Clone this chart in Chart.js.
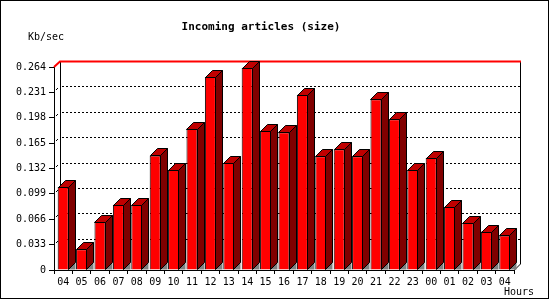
<!DOCTYPE html>
<html>
<head>
<meta charset="utf-8">
<script src="https://cdn.jsdelivr.net/npm/chart.js@4"></script>
<style>
  html, body { margin: 0; padding: 0; background: #fff; }
</style>
</head>
<body>
<canvas id="chart" width="550" height="300"></canvas>
<script>
// ===== data =====
const hours = ["04", "05", "06", "07", "08", "09", "10", "11", "12", "13", "14", "15", "16",
               "17", "18", "19", "20", "21", "22", "23", "00", "01", "02", "03", "04"];
const kbSec = [0.108, 0.027, 0.063, 0.085, 0.085, 0.149, 0.130, 0.184, 0.251, 0.139, 0.263, 0.181, 0.179,
               0.228, 0.148, 0.157, 0.148, 0.222, 0.196, 0.130, 0.146, 0.082, 0.061, 0.050, 0.045];
const yTicks = [0, 0.033, 0.066, 0.099, 0.132, 0.165, 0.198, 0.231, 0.264];

// depth of the fake 3d
const DX = 7, DY = 7, WALL = 6;
const FONT = '"DejaVu Sans Mono", monospace';

function poly(ctx, pts, fill) {
    ctx.beginPath();
    ctx.moveTo(pts[0][0], pts[0][1]);
    for (let i = 1; i < pts.length; i++) ctx.lineTo(pts[i][0], pts[i][1]);
    ctx.closePath();
    ctx.fillStyle = fill;
    ctx.fill();
}

// back wall, dotted grid, bar sides/tops, texts
const fake3d = {
    id: "fake3d",
    beforeDatasetsDraw(chart) {
        const { ctx, chartArea: a, scales: { y } } = chart;
        ctx.save();
        ctx.strokeStyle = "#000";
        ctx.lineWidth = 1;
        yTicks.forEach((t, i) => {
            const fy = Math.round(y.getPixelForValue(t));
            if (i > 0 && i < yTicks.length - 1) {
                ctx.setLineDash([2, 2]);
                ctx.beginPath();
                ctx.moveTo(a.left + WALL + 2, fy - WALL + 0.5);
                ctx.lineTo(a.right + WALL, fy - WALL + 0.5);
                ctx.stroke();
                ctx.setLineDash([]);
                ctx.beginPath();
                ctx.moveTo(a.left + 2, fy - 2);
                ctx.lineTo(a.left + 4, fy - 4);
                ctx.stroke();
            }
        });
        // wall edges
        ctx.beginPath();
        ctx.moveTo(a.left + WALL + 0.5, a.top - WALL);
        ctx.lineTo(a.left + WALL + 0.5, a.bottom - WALL);
        ctx.stroke();
        ctx.beginPath();
        ctx.moveTo(a.right + WALL + 0.5, a.top - WALL);
        ctx.lineTo(a.right + WALL + 0.5, a.bottom - WALL);
        ctx.lineTo(a.right + 0.5, a.bottom);
        ctx.stroke();
        // red top edge
        ctx.strokeStyle = "#ff0000";
        ctx.lineWidth = 2;
        ctx.beginPath();
        ctx.moveTo(a.left, a.top);
        ctx.lineTo(a.left + WALL, a.top - WALL + 0.5);
        ctx.lineTo(a.right + WALL + 1, a.top - WALL + 0.5);
        ctx.stroke();
        ctx.restore();
    },
    afterDatasetsDraw(chart) {
        const { ctx } = chart;
        const meta = chart.getDatasetMeta(0);
        ctx.save();
        ctx.strokeStyle = "#000";
        ctx.lineWidth = 1;
        meta.data.forEach(bar => {
            const { x, y, base, width } = bar.getProps(["x", "y", "base", "width"], true);
            const l = Math.round(x - width / 2) + 0.5;
            const r = Math.round(x + width / 2) - 0.5;
            const t = Math.round(y) + 0.5;
            const b = Math.round(base) - 0.5;
            poly(ctx, [[r, b], [r + DX, b], [r + DX, b - DY]], "#808080");
            poly(ctx, [[r, t], [r + DX, t - DY], [r + DX, b - DY], [r, b]], "#800000");
            ctx.stroke();
            poly(ctx, [[l, t], [l + DX, t - DY], [r + DX, t - DY], [r, t]], "#c00000");
            ctx.stroke();
        });
        ctx.restore();
    },
    afterDraw(chart) {
        const { ctx } = chart;
        ctx.save();
        ctx.fillStyle = "#000";
        ctx.textBaseline = "middle";
        ctx.font = "bold 11px " + FONT;
        ctx.textAlign = "center";
        ctx.fillText("Incoming articles (size)", 261, 27);
        ctx.font = "10px " + FONT;
        ctx.textAlign = "left";
        ctx.fillText("Kb/sec", 28, 37);
        ctx.fillText("Hours", 504, 292);
        ctx.strokeStyle = "#000";
        ctx.lineWidth = 1;
        ctx.strokeRect(0.5, 0.5, 548, 298);
        ctx.restore();
    },
};

new Chart(document.getElementById("chart"), {
    type: "bar",
    data: {
        labels: hours,
        datasets: [{
            data: kbSec,
            backgroundColor: "#ff0000",
            borderColor: "#000",
            borderWidth: 1,
            barPercentage: 0.6,
            categoryPercentage: 1,
        }],
    },
    options: {
        responsive: false,
        animation: false,
        layout: { padding: { left: 0, top: 67, right: 36, bottom: 0 } },
        scales: {
            x: {
                offset: true,
                grid: { offset: true, drawOnChartArea: false, tickLength: 4, color: "#000" },
                border: { color: "#000" },
                ticks: { color: "#000", font: { family: FONT, size: 10 }, padding: 2, maxRotation: 0, autoSkip: false },
                afterFit: s => { s.height = 30; },
            },
            y: {
                min: 0,
                max: 0.264,
                afterBuildTicks: s => { s.ticks = yTicks.map(v => ({ value: v })); },
                grid: { drawOnChartArea: false, tickLength: 5, color: "#000" },
                border: { color: "#000" },
                ticks: {
                    color: "#000",
                    font: { family: FONT, size: 10 },
                    padding: 3,
                    callback: v => (v === 0 ? "0" : v.toFixed(3)),
                },
                afterFit: s => { s.width = 54; },
            },
        },
        plugins: {
            legend: { display: false },
            tooltip: { enabled: false },
        },
    },
    plugins: [fake3d],
});
</script>
</body>
</html>
